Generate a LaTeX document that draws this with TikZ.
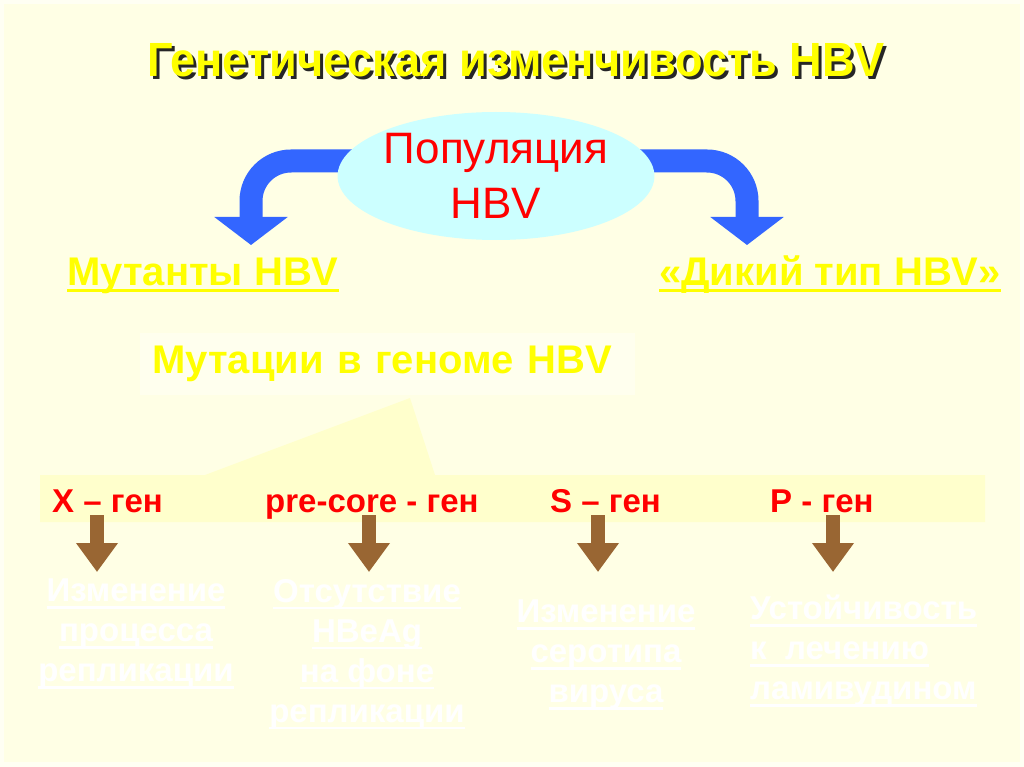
\documentclass[tikz,border=0pt]{standalone}
\usepackage{fontspec}
\setmainfont{Liberation Sans}
\usetikzlibrary{arrows.meta,shapes.geometric,calc}

\definecolor{slidebg}{RGB}{255,255,229}
\definecolor{slideedge}{RGB}{255,255,243}
\definecolor{popcyan}{RGB}{204,255,255}
\definecolor{hbvyellow}{RGB}{255,255,0}
\definecolor{genred}{RGB}{255,0,0}
\definecolor{arrowblue}{RGB}{51,102,255}
\definecolor{arrowbrown}{RGB}{153,102,51}
\definecolor{stripfill}{RGB}{255,255,204}
\definecolor{boxfill}{RGB}{255,255,238}

% underline at a fixed depth below the baseline
\newcommand{\ulin}[1]{\leavevmode\setbox0\hbox{#1}\rlap{\rule[-7pt]{\wd0}{2.6pt}}\box0}
\newcommand{\titlestr}{\scalebox{0.94}[1]{Генетическая изменчивость HBV}}

\begin{document}
\begin{tikzpicture}[x=1pt,y=-1pt,
    titletext/.style={font=\bfseries\fontsize{48}{56}\selectfont, inner sep=0pt, anchor=base},
    lbl/.style={font=\bfseries\fontsize{40}{48}\selectfont, text=hbvyellow, inner sep=0pt, anchor=base},
    gene/.style={font=\bfseries\fontsize{33}{40}\selectfont, text=genred, inner sep=0pt, anchor=base west},
    effect/.style={font=\bfseries\fontsize{33}{40}\selectfont, text=white, inner sep=0pt, anchor=north, align=center},
    bluearrow/.style={draw=arrowblue, line width=23pt, rounded corners=40pt, -{Triangle[width=72pt,length=28pt]}},
    brownarrow/.style={draw=arrowbrown, line width=14pt, -{Triangle[width=40pt,length=29pt]}}]

    \useasboundingbox (0,0) rectangle (1024,767);
    \fill[slideedge] (0,0) rectangle (1024,767);
    \fill[slidebg] (4,4) rectangle (1020,762);

    % title with shadow
    \node[titletext, text=black!85] (titleshadow) at (519,80) {\titlestr};
    \node[titletext, text=hbvyellow] (title) at (516,77) {\titlestr};

    % population and the two branches
    \coordinate (popc) at (496,176);
    \coordinate (muttip) at (251,245);
    \coordinate (wildtip) at (747,245);
    \draw[bluearrow] ($(popc)+(-90,-15)$) -| (muttip);
    \draw[bluearrow] ($(popc)+(90,-15)$) -| (wildtip);
    \node[ellipse, fill=popcyan, minimum width=312pt, minimum height=128pt, inner sep=0pt,
          font=\fontsize{44}{55}\selectfont, text=genred, align=center] (pop) at (popc) {Популяция\\HBV};

    \node[lbl] (mutants) at (203,285) {\ulin{Мутанты HBV}};
    \node[lbl] (wild) at (830,285) {\ulin{«Дикий тип HBV»}};

    % callout
    \node[lbl, anchor=west, fill=boxfill, inner xsep=12pt, minimum height=62pt,
          text width=471pt, align=left] (mutations) at (140,364) {Мутации в геноме HBV};
    \fill[stripfill] (40,475) -- (205,475) -- (410,398) -- (435,475) -- (985,475)
        -- (985,522) -- (40,522) -- cycle;

    % genes
    \node[gene] (xgene) at (52,512) {X – ген};
    \node[gene] (pcgene) at (265,512) {pre-core - ген};
    \node[gene] (sgene) at (550,512) {S – ген};
    \node[gene] (pgene) at (770,512) {P - ген};

    \foreach \ax in {97,369,598,833}
        \draw[brownarrow] (\ax,515) -- (\ax,572);

    % effects
    \node[effect] (replication) at (136,579) {\ulin{Изменение}\\\ulin{процесса}\\\ulin{репликации}};
    \node[effect] (hbeag) at (367,579) {\ulin{Отсутствие}\\\ulin{HBeAg}\\\ulin{на фоне}\\\ulin{репликации}};
    \node[effect] (serotype) at (606,600) {\ulin{Изменение}\\\ulin{серотипа}\\\ulin{вируса}};
    \node[effect, anchor=north west, align=left] (lamivudine) at (750,595) {\ulin{Устойчивость}\\\ulin{к\ \ лечению}\\\ulin{ламивудином}};
\end{tikzpicture}
\end{document}
